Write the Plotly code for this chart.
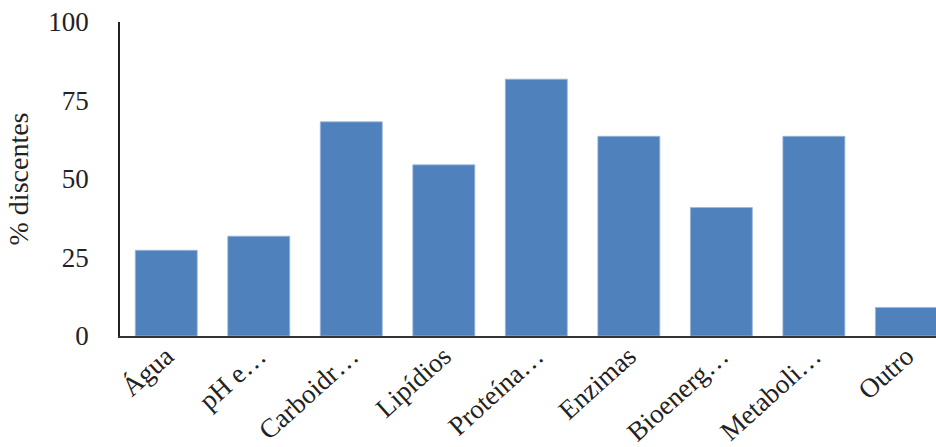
import plotly.graph_objects as go

categories = ["Água", "pH e…", "Carboidr…", "Lipídios", "Proteína…", "Enzimas", "Bioenerg…", "Metaboli…", "Outro"]
values = [27.3, 31.8, 68.2, 54.5, 81.8, 63.6, 40.9, 63.6, 9.1]
y_ticks = [0, 25, 50, 75, 100]

serif = "Liberation Serif, Times New Roman, serif"

fig = go.Figure(go.Bar(
    x=list(range(len(categories))),
    y=values,
    width=0.67,
    marker=dict(color="#4F81BD", line=dict(color="#9DB8DC", width=0.8)),
))

fig.update_layout(
    width=936, height=447,
    margin=dict(l=120, r=0, t=22, b=111),
    plot_bgcolor="white", paper_bgcolor="white",
    showlegend=False,
    font=dict(family=serif, color="#222222"),
)
fig.update_xaxes(
    tickmode="array", tickvals=list(range(len(categories))), ticktext=categories,
    range=[-0.5, 8.32], tickangle=-42,
    tickfont=dict(size=27, family=serif, color="#222222"),
    showline=True, linecolor="#333333", linewidth=1.5,
    showgrid=False, ticks="", zeroline=False,
    ticklabelstandoff=-8, automargin=False,
)
fig.update_yaxes(
    range=[0, 100], tickmode="array", tickvals=y_ticks,
    tickfont=dict(size=27, family=serif, color="#222222"),
    showline=True, linecolor="#222222", linewidth=1.5,
    showgrid=False, ticks="", zeroline=False,
    ticklabelstandoff=24, automargin=False,
    title=dict(text="% discentes", font=dict(size=28, family=serif, color="#222222"), standoff=12),
)

fig.write_html("out.html")
